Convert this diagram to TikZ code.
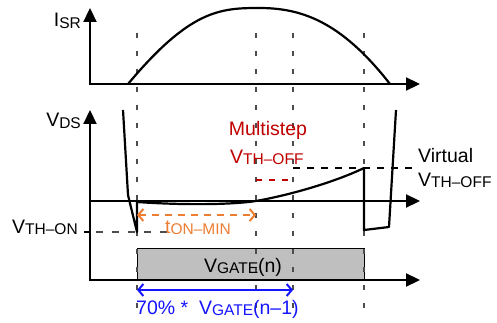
\documentclass[tikz,border=0pt]{standalone}
\usepackage{fontspec}
\setmainfont{Liberation Sans}
\usetikzlibrary{arrows.meta}
\definecolor{stepred}{RGB}{192,0,0}
\definecolor{tonorange}{RGB}{237,125,49}
\definecolor{gateblue}{RGB}{20,20,255}
\definecolor{gategray}{RGB}{191,191,191}
\newcommand{\sbs}[1]{\raisebox{-1.5pt}{\fontsize{15.5}{16}\selectfont #1}}

\begin{document}
\begin{tikzpicture}[x=1pt,y=-1pt,>={Triangle[length=14pt,width=13pt]},
  every node/.style={font=\fontsize{19.5}{22}\selectfont,inner sep=0pt},
  axis/.style={line width=2.2pt,->},
  wave/.style={line width=2.2pt,line join=round},
  marker/.style={dash pattern=on 5pt off 13pt,line width=1.3pt,black!70},
  barbs/.style={line width=2pt,{Straight Barb[length=5pt,width=12pt]}-{Straight Barb[length=5pt,width=12pt]}}]
  \useasboundingbox (0,0) rectangle (497,323);
  % gate pulse
  \draw[fill=gategray,line width=1pt] (137,248) rectangle (364,280);
  % time markers
  \foreach \tx in {137,256,293,364}
    \draw[marker] (\tx,33)--(\tx,316);
  % I_SR plot
  \draw[axis] (90,85)--(90,8);
  \draw[axis] (89,84)--(420,84);
  \draw[wave] (128,84) .. controls (190,10) and (220,8) .. (259,8) .. controls (300,8) and (340,20) .. (390,84);
  \node[anchor=base east] (isr) at (81,27) {I\sbs{SR}};
  % V_DS plot
  \draw[axis] (90,281)--(90,110);
  \draw[axis] (89,201)--(420,201);
  \draw[axis] (89,280)--(420,280);
  \node[anchor=base east] (vds) at (81,127) {V\sbs{DS}};
  \draw[wave] (123,110)--(128,195)--(137,232)--(137,202) .. controls (180,205) and (230,205) .. (256,201)
    .. controls (290,195) and (335,182) .. (364,168)--(364,230)--(389,227)--(396,110);
  % thresholds
  \draw[line width=1.3pt] (84,232)--(90,232);
  \draw[line width=1.3pt,black!70,dash pattern=on 7pt off 9pt] (96,232)--(168,232);
  \node[anchor=base west] (vthon) at (12,233) {V\sbs{TH–ON}};
  \draw[stepred,line width=2pt,dash pattern=on 6pt off 7pt] (256,180)--(293,180);
  \draw[line width=2pt,dash pattern=on 7pt off 7pt] (293,168)--(412,168);
  \node[stepred,anchor=base] (multi) at (268,136) {Multistep};
  \node[stepred,anchor=base west] (vthstep) at (230,163) {V\sbs{TH–OFF}};
  \node[anchor=base west] (virt) at (418,162) {Virtual};
  \node[anchor=base west] (vthvirt) at (418,186) {V\sbs{TH–OFF}};
  % minimum on time
  \draw[barbs,tonorange,dash pattern=on 7pt off 6pt] (137,215)--(256,215);
  \node[tonorange,anchor=base west] (tmin) at (165,233) {t\sbs{ON–MIN}};
  % gate labels
  \node[anchor=base] (vgate) at (243,272) {V\sbs{GATE}(n)};
  \draw[barbs,gateblue] (137,290)--(293,290);
  \node[gateblue,anchor=base west] (vgprev) at (136,314) {70\% *\ \ V\sbs{GATE}(n–1)};
\end{tikzpicture}
\end{document}
